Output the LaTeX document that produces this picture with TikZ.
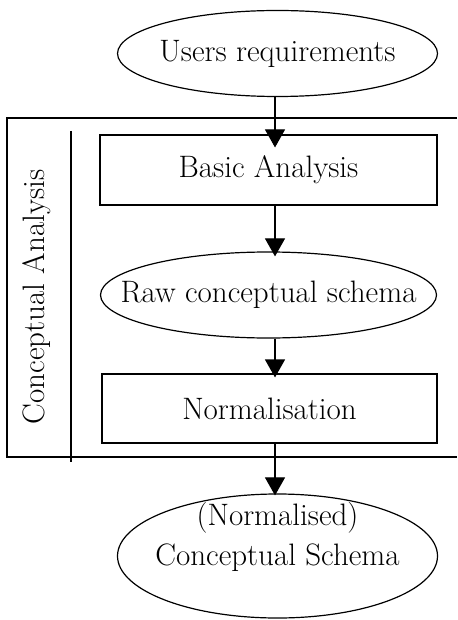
\documentclass[tikz,border=0pt]{standalone}
\usetikzlibrary{shapes.geometric,arrows.meta}
\begin{document}
\begin{tikzpicture}[x=1pt,y=-1pt,
  every node/.style={font=\fontsize{31}{40}\selectfont},
  line/.style={line width=1.1pt},
  stepbox/.style={draw,line width=1.1pt,inner sep=0pt},
  oval/.style={draw,ellipse,line width=1.2pt,inner sep=0pt},
  arr/.style={line width=1.1pt,-{Triangle[width=20pt,length=18pt]}}]
\useasboundingbox (0,0) rectangle (457,620);
\fill[white] (0,0) rectangle (457,620);

% group frame, open on the right
\draw[line] (457,118) -- (7,118) -- (7,457) -- (457,457);
\draw[line] (71,131) -- (71,462);
\node[rotate=90] (lbl) at (37,297) {Conceptual Analysis};

% flow elements (oval captions are labels so the outline keeps its size)
\node[oval,minimum width=320pt,minimum height=86pt,
      label={center:Users requirements}] (ur) at (277.5,53.5) {};
\node[stepbox,minimum width=337pt,minimum height=70pt] (ba) at (268.5,170) {Basic Analysis};
\node[oval,minimum width=336pt,minimum height=86pt,
      label={center:Raw conceptual schema}] (raw) at (268.5,295) {};
\node[stepbox,minimum width=335pt,minimum height=69pt] (norm) at (269.5,408.5) {Normalisation};
\node[oval,minimum width=320pt,minimum height=124pt,
      label={[align=center,yshift=19pt]center:(Normalised)\\Conceptual Schema}] (cs) at (277.5,556) {};

% connectors along a common vertical
\coordinate (ax) at (275,0);
\draw[arr,shorten >=-13pt] (ax |- ur.south) -- (ax |- ba.north);
\draw[arr,shorten >=-5pt] (ax |- ba.south) -- (ax |- raw.north);
\draw[arr,shorten >=-4pt] (ax |- raw.south) -- (ax |- norm.north);
\draw[arr,shorten >=-2pt] (ax |- norm.south) -- (ax |- cs.north);
\end{tikzpicture}
\end{document}
